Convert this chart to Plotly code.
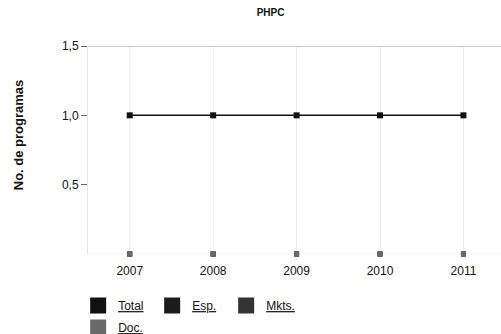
import plotly.graph_objects as go

years = ["2007", "2008", "2009", "2010", "2011"]
total = [1, 1, 1, 1, 1]
esp = [0, 0, 0, 0, 0]
mkts = [0, 0, 0, 0, 0]
doc = [0, 0, 0, 0, 0]
series_names = ["Total", "Esp.", "Mkts.", "Doc."]
series_colors = ["#111111", "#1c1c1c", "#333333", "#6a6a6a"]
y_ticks = [0.5, 1.0, 1.5]
y_title = "No. de programas"

fig = go.Figure()
data = [total, esp, mkts, doc]
for name, vals, col in zip(series_names, data, series_colors):
    fig.add_trace(go.Scatter(
        x=years, y=vals, mode="lines+markers" if name == "Total" else "markers",
        line=dict(color=col, width=1.5),
        marker=dict(symbol="square", size=6 if name == "Total" else 5, color=col),
        showlegend=False, cliponaxis=False, hoverinfo="skip"))

for i, (name, col) in enumerate(zip(series_names, series_colors)):
    fig.add_trace(go.Scatter(
        x=[None], y=[None], mode="markers", name="<u>" + name + "</u>",
        marker=dict(symbol="square", size=16, color=col),
        legend="legend" if i < 3 else "legend2"))

fig.update_layout(
    width=501, height=334,
    margin=dict(l=88, r=0, t=46, b=80),
    paper_bgcolor="white", plot_bgcolor="white",
    separators=",.",
    font=dict(family="Liberation Sans, Arial, sans-serif", size=12, color="#111"),
    title=dict(text="<b>PHPC</b>", x=0.54, xref="container", xanchor="center",
               y=0.964, yref="container", yanchor="middle",
               font=dict(size=10, color="#111")),
    xaxis=dict(type="category", range=[-0.5, 4.45], showgrid=True,
               gridcolor="#eeeeee", gridwidth=1, showline=False, zeroline=False,
               ticks="", ticklabelstandoff=8, automargin=False,
               tickfont=dict(size=12, color="#111")),
    yaxis=dict(range=[0, 1.5], tickvals=y_ticks, tickformat=".1f",
               showgrid=False, showline=True, linecolor="#e6e6e6", linewidth=1,
               ticks="outside", ticklen=6, tickcolor="#666", zeroline=False,
               automargin=False,
               tickfont=dict(size=12, color="#111")),
    legend=dict(orientation="h", xref="container", yref="container",
                x=0.156, xanchor="left", y=0.129, yanchor="top",
                font=dict(size=12, color="#111"), itemwidth=30,
                entrywidth=29, entrywidthmode="pixels",
                bgcolor="rgba(0,0,0,0)", tracegroupgap=0),
    legend2=dict(orientation="h", xref="container", yref="container",
                 x=0.156, xanchor="left", y=0.063, yanchor="top",
                 font=dict(size=12, color="#111"), itemwidth=30,
                 bgcolor="rgba(0,0,0,0)"),
)
fig.add_annotation(text="<b>" + y_title + "</b>", textangle=-90,
                   xref="paper", yref="paper", x=-0.169, y=0.572,
                   xanchor="center", yanchor="middle", showarrow=False,
                   font=dict(size=13, color="#111"))
fig.add_shape(type="line", xref="paper", yref="y", x0=0, x1=1, y0=1.5, y1=1.5,
              line=dict(color="#cfcfcf", width=2))
fig.add_shape(type="line", xref="paper", yref="y", x0=0, x1=1, y0=0, y1=0,
              line=dict(color="#f0f0f0", width=1), layer="below")

fig.write_html("out.html", config={"displayModeBar": False},
               post_script="document.body.style.margin='0';document.body.style.overflow='hidden';")
